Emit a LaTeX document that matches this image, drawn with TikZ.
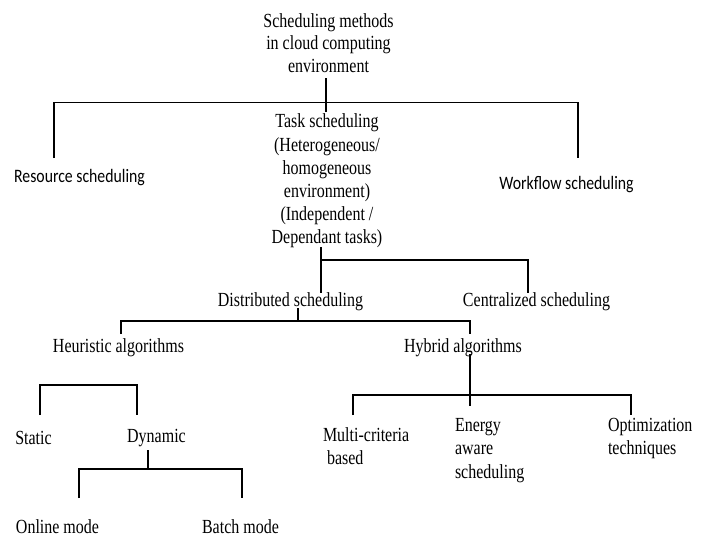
\documentclass[tikz,border=0pt]{standalone}
\usepackage{fontspec}
\setmainfont[FakeStretch=0.8]{Liberation Serif}
\newfontfamily\sansc[FakeStretch=0.83]{Carlito}
\begin{document}
\begin{tikzpicture}[x=1pt,y=-1pt,
  lbl/.style={inner sep=0pt,outer sep=0pt,font=\fontsize{20}{23.2}\selectfont,align=center},
  slbl/.style={inner sep=0pt,outer sep=0pt,font=\sansc\fontsize{19}{22}\selectfont},
  conn/.style={line width=1.1pt,line join=miter}]
\useasboundingbox (0,0) rectangle (708,539);
% nodes
\node[lbl,font=\fontsize{20}{22.2}\selectfont] (title) at (328.5,43) {Scheduling methods\\in cloud computing\\environment};
\node[lbl] (task) at (327,181) {Task scheduling\\(Heterogeneous/\\homogeneous\\environment)\\(Independent /\\Dependant tasks)};
\node[slbl] (res) at (79.5,178) {Resource scheduling};
\node[slbl] (wf) at (566.5,185) {Workflow scheduling};
\node[lbl] (dist) at (290.5,302) {Distributed scheduling};
\node[lbl] (cent) at (536.5,302) {Centralized scheduling};
\node[lbl] (heur) at (118.5,348) {Heuristic algorithms};
\node[lbl] (hyb) at (463,348) {Hybrid algorithms};
\node[lbl,anchor=west,align=left] (multi) at (323,446.5) {Multi-criteria\\\ based};
\node[lbl,anchor=west,align=left] (energy) at (455,450.5) {Energy\\aware\\scheduling};
\node[lbl,anchor=west,align=left] (optim) at (608,438.5) {Optimization\\techniques};
\node[lbl] (static) at (33.5,438) {Static};
\node[lbl] (dyn) at (156.5,438) {Dynamic};
\node[lbl] (online) at (57.5,527) {Online mode};
\node[lbl] (batch) at (240.5,527) {Batch mode};
% coordinates
\coordinate (tt) at (326,78);
\coordinate (tb) at (326,112);
\coordinate (rtop) at (54,158);
\coordinate (wtop) at (578,158);
\coordinate (tk) at (321,247);
\coordinate (dtop) at (321,293);
\coordinate (ctop) at (528,293);
\coordinate (dbot) at (298,308);
\coordinate (htop) at (121,334);
\coordinate (hytop) at (470,334);
\coordinate (hybot) at (470,354);
\coordinate (etop) at (470,406);
\coordinate (mtop) at (353,415);
\coordinate (otop) at (631,415);
\coordinate (stop) at (40,415);
\coordinate (dytop) at (137,415);
\coordinate (dybot) at (148,450);
\coordinate (ontop) at (79,498);
\coordinate (batop) at (242,498);
% connectors
\draw[conn] (tt) -- (tb);
\draw[conn] (rtop) |- (326,102.5) -| (wtop);
\draw[conn] (tk) -- (dtop);
\draw[conn] (321,260) -| (ctop);
\draw[conn] (dbot) -- (298,321);
\draw[conn] (htop) |- (298,321) -| (hytop);
\draw[conn] (hybot) -- (etop);
\draw[conn] (mtop) |- (470,395) -| (otop);
\draw[conn] (stop) |- (90,385) -| (dytop);
\draw[conn] (dybot) -- (148,469);
\draw[conn] (ontop) |- (148,469) -| (batop);
\end{tikzpicture}
\end{document}
